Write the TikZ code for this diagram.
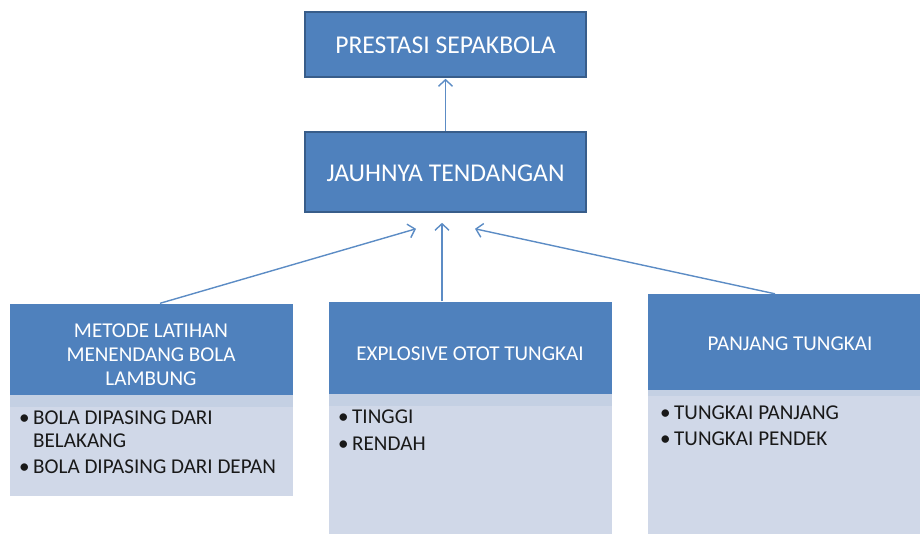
\documentclass[tikz,border=0pt]{standalone}
\usepackage{fontspec}
\setmainfont{Carlito}
\usetikzlibrary{arrows.meta,calc}
\definecolor{hdr}{RGB}{79,129,189}
\definecolor{hdrborder}{RGB}{56,93,138}
\definecolor{body}{RGB}{208,216,232}
\definecolor{band}{RGB}{196,208,227}
\definecolor{arr}{RGB}{92,140,197}
\tikzset{
  mainbox/.style={draw=hdrborder, line width=1.6pt, fill=hdr, text=white, inner sep=0pt},
  hdrbox/.style={fill=hdr, draw=none, inner sep=0pt},
  bodybox/.style={fill=body, draw=none, inner sep=0pt},
  bandbox/.style={fill=band, draw=none, inner sep=0pt},
  hdrtext/.style={text=white, font=\fontsize{21.1}{25}\selectfont, align=center, inner sep=0pt},
  itemtext/.style={text=black!90, font=\fontsize{21.1}{25}\selectfont, anchor=west, inner sep=0pt},
  conn/.style={draw=arr, line width=1.4pt, -{Straight Barb[length=6.5pt,width=14pt,line width=1.4pt]}}
}
\begin{document}
\begin{tikzpicture}[x=1pt,y=-1pt]
\useasboundingbox (0,0) rectangle (920,533);
% top boxes
\node[mainbox, minimum width=281pt, minimum height=65pt] (top) at (445.5,44.5) {};
\node[text=white, font=\fontsize{25.6}{29}\selectfont, inner sep=0pt] (toptxt) at (445.5,45) {PRESTASI SEPAKBOLA};
\node[mainbox, minimum width=281pt, minimum height=80pt] (mid) at (445.5,172) {};
\node[text=white, font=\fontsize{25.6}{29}\selectfont, inner sep=0pt] (midtxt) at (445.5,173) {JAUHNYA TENDANGAN};
% child 1
\node[bodybox, minimum width=283pt, minimum height=192pt] (c1b) at (151,400) {};
\node[bandbox, minimum width=283pt, minimum height=12pt] (c1band) at (151,401) {};
\node[hdrbox, minimum width=283pt, minimum height=91pt] (c1h) at (151,349.5) {};
\node[hdrtext] (c1t1) at (151,331) {METODE LATIHAN};
\node[hdrtext] (c1t2) at (151,355) {MENENDANG BOLA};
\node[hdrtext] (c1t3) at (151,378.5) {LAMBUNG};
\node[itemtext] (c1i1) at (19,418) {\textbullet\,BOLA DIPASING DARI};
\node[itemtext] (c1i2) at (33,441) {BELAKANG};
\node[itemtext] (c1i3) at (19,467) {\textbullet\,BOLA DIPASING DARI DEPAN};
% child 2
\node[bodybox, minimum width=283pt, minimum height=232pt] (c2b) at (470,418) {};
\node[bandbox, minimum width=283pt, minimum height=12pt] (c2band) at (470,399.5) {};
\node[hdrbox, minimum width=283pt, minimum height=92pt] (c2h) at (470,348) {};
\node[hdrtext] (c2t) at (470,354) {EXPLOSIVE OTOT TUNGKAI};
\node[itemtext] (c2i1) at (338,417) {\textbullet\,TINGGI};
\node[itemtext] (c2i2) at (338,444) {\textbullet\,RENDAH};
% child 3
\node[bodybox, minimum width=273pt, minimum height=240pt] (c3b) at (784.5,414) {};
\node[bandbox, minimum width=273pt, minimum height=6pt] (c3band) at (784.5,393) {};
\node[hdrbox, minimum width=273pt, minimum height=96pt] (c3h) at (784.5,342) {};
\node[hdrtext] (c3t) at (790,344) {PANJANG TUNGKAI};
\node[itemtext] (c3i1) at (660,413) {\textbullet\,TUNGKAI PANJANG};
\node[itemtext] (c3i2) at (660,439) {\textbullet\,TUNGKAI PENDEK};
% connectors
\coordinate (s0) at ($(mid.north)+(0,0)$);
\coordinate (e0) at ($(top.south)+(0,1)$);
\coordinate (s1) at ($(c1h.north)+(9,-0.5)$);
\coordinate (e1) at ($(mid.south)+(-29.5,16)$);
\coordinate (s2) at ($(c2h.north)+(-28,-0.5)$);
\coordinate (e2) at ($(mid.south)+(-3.5,10)$);
\coordinate (s3) at ($(c3h.north)+(-9.5,0)$);
\coordinate (e3) at ($(mid.south)+(29.5,16)$);
\draw[conn] (s0) -- (e0);
\draw[conn] (s1) -- (e1);
\draw[conn] (s2) -- (e2);
\draw[conn] (s3) -- (e3);
\end{tikzpicture}
\end{document}
